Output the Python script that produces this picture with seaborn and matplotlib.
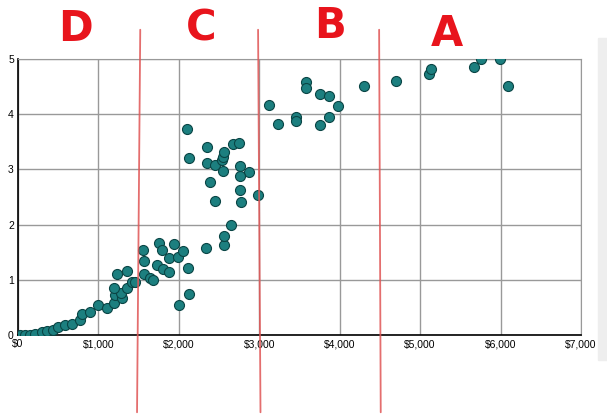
import numpy as np
import pandas as pd
import matplotlib
matplotlib.use('Agg')
import matplotlib.pyplot as plt
import seaborn as sns
from matplotlib.ticker import FuncFormatter

# данные
price = [25, 87, 149, 211, 298, 360, 435, 497, 584, 671, 771, 796, 895, 994, 1106,
         1193, 1206, 1293, 1280, 1193, 1355, 1417, 1454, 1231, 1355,
         1554, 1566, 1566, 1641, 1678, 1728, 1753, 1790, 1802, 1877, 1877, 1939,
         1989, 2051, 2113, 2001, 2126, 2337, 2561, 2561, 2648, 2387, 2449, 2760,
         2772, 2983, 2101, 2126, 2349, 2349, 2449, 2536, 2548, 2561, 2673, 2747,
         2548, 2760, 2871, 2760,
         3120, 3232, 3455, 3455, 3580, 3580, 3754, 3754, 3866, 3866, 3977, 4300,
         4698, 5108, 5133, 5668, 5755, 5991, 6091]
score = [0.00, 0.00, 0.00, 0.02, 0.05, 0.07, 0.09, 0.14, 0.18, 0.20, 0.27, 0.38, 0.42, 0.54, 0.49,
         0.58, 0.72, 0.67, 0.76, 0.85, 0.85, 0.96, 0.96, 1.11, 1.16,
         1.54, 1.34, 1.11, 1.03, 1.00, 1.27, 1.67, 1.54, 1.20, 1.39, 1.14, 1.65,
         1.41, 1.52, 1.21, 0.54, 0.74, 1.58, 1.63, 1.79, 1.99, 2.77, 2.43, 2.63,
         2.41, 2.54, 3.73, 3.21, 3.41, 3.12, 3.08, 3.17, 3.22, 3.32, 3.46, 3.48,
         2.97, 3.06, 2.95, 2.88,
         4.17, 3.82, 3.95, 3.88, 4.58, 4.47, 4.37, 3.80, 4.33, 3.95, 4.15, 4.51,
         4.60, 4.73, 4.82, 4.86, 5.00, 5.00, 4.51]

# границы групп и подписи
boundaries = [1500, 3000, 4500]
grades = ['D', 'C', 'B', 'A']
grade_x = [720, 2280, 3880, 5330]
grade_y = [5.55, 5.55, 5.6, 5.45]

df = pd.DataFrame({'price': price, 'score': score})

sns.set_style('white')
plt.rcParams['font.family'] = ['Liberation Sans', 'DejaVu Sans']

fig = plt.figure(figsize=(6.07, 4.17), dpi=100)
ax = fig.add_axes([18 / 607, 82 / 417, 563 / 607, 276 / 417])

sns.scatterplot(data=df, x='price', y='score', ax=ax, s=52,
                color='#1c7f7f', edgecolor='#0a4545', linewidth=0.8, zorder=3)

ax.set_xlim(0, 7000)
ax.set_ylim(0, 5)
ax.set_xticks(range(0, 7001, 1000))
ax.set_yticks(range(0, 6))
ax.xaxis.set_major_formatter(FuncFormatter(lambda v, p: f'${int(v):,}'))
ax.grid(True, color='#999999', linewidth=1)
ax.set_axisbelow(True)
ax.set_xlabel('')
ax.set_ylabel('')
ax.tick_params(length=0, labelsize=7.5, colors='black', pad=3)
for side in ['top', 'right']:
    ax.spines[side].set_color('#999999')
for side in ['left', 'bottom']:
    ax.spines[side].set_color('black')
    ax.spines[side].set_linewidth(1.2)

# красные линии-разделители, выходят за пределы осей
tilt = [(20, -20), (-15, 15), (-10, 10)]
for b, (dt, db) in zip(boundaries, tilt):
    ax.plot([b + dt, b + db], [5.53, -1.40], color='#e05555', alpha=0.85,
            linewidth=1.3, clip_on=False, zorder=4)

for g, gx, gy in zip(grades, grade_x, grade_y):
    ax.text(gx, gy, g, color='#e8141c', fontsize=30, ha='center', va='center',
            family=['Liberation Sans Narrow', 'DejaVu Sans'], fontweight='bold',
            clip_on=False)

# полоса прокрутки справа
fig.patches.append(plt.Rectangle((598 / 607, 57 / 417), 9 / 607, 322 / 417,
                                 transform=fig.transFigure, color='#eeeeee'))

fig.savefig('out.png', dpi=100)
